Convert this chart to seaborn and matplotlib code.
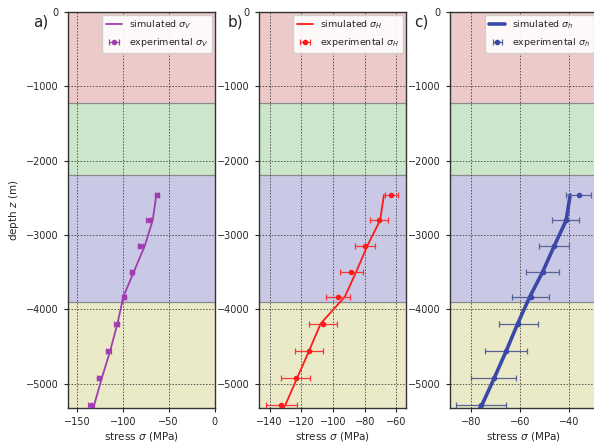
import numpy as np
import pandas as pd
import matplotlib
matplotlib.use("Agg")
import matplotlib.pyplot as plt
import seaborn as sns

# ---- data ----
exp_depth = [-2460, -2800, -3140, -3490, -3830, -4190, -4560, -4920, -5290]

exp_V = [-63, -72, -81, -90, -99, -107, -116, -126, -135]
err_V = [2.5, 2.5, 2.5, 2.5, 2.5, 2.5, 2.5, 2.5, 3]
sim_V_depth = [-2460, -2800, -3140, -3490, -3830, -4190, -4560, -4920, -5330]
sim_V = [-63.5, -67.5, -76, -88, -99.6, -106, -114, -123, -132.5]

exp_H = [-63.2, -71.2, -80, -88.4, -96.8, -106.3, -115.2, -123.6, -132.6]
err_H = [4, 5.6, 6.2, 7, 7.4, 8.8, 9, 9.2, 10]
sim_H_depth = [-2460, -2800, -3140, -3490, -3830, -4190, -4560, -4920, -5290, -5330]
sim_H = [-67.9, -70.3, -78.3, -85.3, -92.6, -107.8, -115.2, -122.6, -130.2, -131.5]

exp_h = [-36.2, -41.5, -46.2, -50.9, -55.8, -60.8, -65.7, -70.8, -75.9]
err_h = [5, 5.4, 6.2, 6.6, 7.5, 8, 8.6, 9.3, 10]
sim_h_depth = [-2460, -2800, -3140, -3490, -3830, -4190, -4560, -4920, -5290, -5330]
sim_h = [-39.7, -41.3, -46.1, -50.8, -56.1, -61, -65.7, -70.5, -75.6, -76.5]

layer_tops = [0, -1220, -2190, -3900]
layer_bottoms = [-1220, -2190, -3900, -5400]
layer_colors = ["#eec9c9", "#cbe6cb", "#c9c9e6", "#eaeac9"]

panels = [
    dict(tag="a)", sim_x=sim_V, sim_z=sim_V_depth, exp_x=exp_V, err=err_V,
         color="#a03cb0", ecolor="#a03cb0", lw=1.3, sub="V",
         xlim=(-160, 0), xticks=[-150, -100, -50, 0]),
    dict(tag="b)", sim_x=sim_H, sim_z=sim_H_depth, exp_x=exp_H, err=err_H,
         color="#ff1a1a", ecolor="#ff3333", lw=1.3, sub="H",
         xlim=(-146.7, -54.3), xticks=[-140, -120, -100, -80, -60]),
    dict(tag="c)", sim_x=sim_h, sim_z=sim_h_depth, exp_x=exp_h, err=err_h,
         color="#3a48a8", ecolor="#5a6098", lw=2.6, sub="h",
         xlim=(-88.5, -29), xticks=[-80, -60, -40]),
]

sns.set_style("ticks")
plt.rcParams["font.family"] = ["DejaVu Sans"]
plt.rcParams["mathtext.fontset"] = "dejavusans"

fig = plt.figure(figsize=(5.94, 4.45), dpi=100)
lefts = [68 / 594, 259 / 594, 450 / 594]
w = 146.5 / 594
bottom = 1 - 408 / 445
h = (408 - 12) / 445
tag_x = [0.056, 0.384, 0.697]

for i, p in enumerate(panels):
    ax = fig.add_axes([lefts[i], bottom, w, h])
    for t, b_, c in zip(layer_tops, layer_bottoms, layer_colors):
        ax.axhspan(b_, t, color=c, zorder=0, lw=0)
    for t in layer_tops[1:]:
        ax.axhline(t, color="#8a8a8a", lw=0.9, zorder=0.5)
    df = pd.DataFrame({"x": p["sim_x"], "z": p["sim_z"]})
    sns.lineplot(data=df, x="x", y="z", sort=False, estimator=None, ax=ax,
                 color=p["color"], lw=p["lw"],
                 label=r"simulated $\sigma_{%s}$" % p["sub"], zorder=3)
    ax.errorbar(p["exp_x"], exp_depth, xerr=p["err"], fmt="o", ms=3,
                color=p["color"], ecolor=p["ecolor"], elinewidth=0.9,
                capsize=2, capthick=0.9, zorder=4,
                label=r"experimental $\sigma_{%s}$" % p["sub"])
    ax.set_xlim(*p["xlim"])
    ax.set_ylim(-5325, 0)
    ax.set_xticks(p["xticks"])
    ax.set_yticks([0, -1000, -2000, -3000, -4000, -5000])
    ax.grid(True, color="#333333", linestyle=(0, (2, 2)), linewidth=0.55)
    ax.tick_params(labelsize=7, length=3, width=0.8)
    ax.set_xlabel(r"stress $\sigma$ (MPa)", fontsize=7.5, labelpad=2)
    if i == 0:
        ax.set_ylabel(r"depth $z$ (m)", fontsize=7.5)
    else:
        ax.set_ylabel("")
    for s in ax.spines.values():
        s.set_linewidth(1.0)
        s.set_color("#333333")
    ax.legend(loc="upper right", fontsize=6.8, frameon=True,
              borderaxespad=0.3, handlelength=1.7, handletextpad=0.7,
              labelspacing=0.5, framealpha=0.9)
    fig.text(tag_x[i], 0.94, p["tag"], fontsize=11)

fig.savefig("out.png", dpi=100)
